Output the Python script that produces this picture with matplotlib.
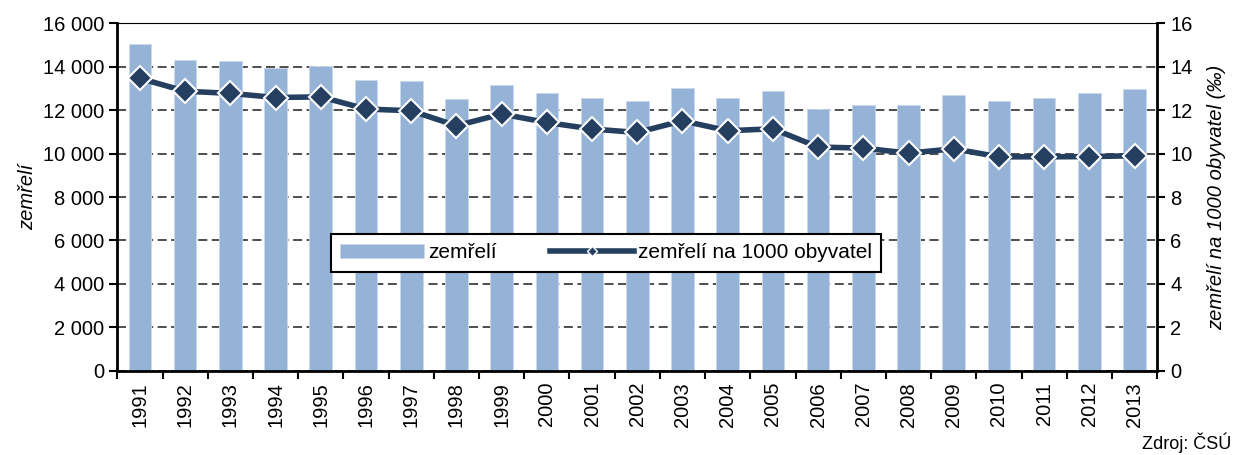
import numpy as np
import matplotlib
matplotlib.use('Agg')
import matplotlib.pyplot as plt
from matplotlib.ticker import FuncFormatter

# data
years = [str(y) for y in range(1991, 2014)]
zemreli = [15050, 14300, 14240, 13960, 14040, 13390, 13320, 12490, 13135, 12770,
           12580, 12410, 13040, 12580, 12860, 12030, 12220, 12220, 12680, 12400,
           12580, 12770, 12950]
na_1000 = [13.46, 12.87, 12.77, 12.58, 12.61, 12.05, 11.97, 11.28, 11.82, 11.43,
           11.13, 10.97, 11.51, 11.05, 11.14, 10.30, 10.25, 10.02, 10.22, 9.85,
           9.85, 9.86, 9.90]

plt.rcParams['font.family'] = ['Liberation Sans', 'DejaVu Sans']
plt.rcParams['font.size'] = 14.5

bar_col = '#95B3D7'
line_col = '#243F60'

fig, ax = plt.subplots(figsize=(12.35, 4.55), dpi=100)
fig.subplots_adjust(left=0.095, right=0.937, top=0.949, bottom=0.185)

x = np.arange(len(years))
bars = ax.bar(x, zemreli, width=0.5, color=bar_col, edgecolor='#C9D9EC', linewidth=0.6,
              label='zemřelí', zorder=2)
ax.set_xlim(-0.5, len(years) - 0.5)
ax.set_ylim(0, 16000)
ax.set_yticks(np.arange(0, 16001, 2000))
ax.yaxis.set_major_formatter(FuncFormatter(lambda v, p: f"{int(v):,}".replace(",", " ")))
ax.grid(axis='y', color='#404040', linestyle=(0, (5, 2.5)), linewidth=1.3, zorder=1)
ax.set_axisbelow(True)

# category ticks between bars (Excel style)
ax.set_xticks(x)
ax.set_xticklabels(years, rotation=90)
ax.set_xticks(np.arange(-0.5, len(years)), minor=True)
ax.tick_params(axis='x', which='major', length=0, pad=8)
ax.tick_params(axis='x', which='minor', length=6, width=1.5, direction='out')
ax.tick_params(axis='y', length=6, width=1.5, direction='out')
ax.set_ylabel('zemřelí', style='italic', labelpad=4)

for s in ['left', 'bottom']:
    ax.spines[s].set_linewidth(2)
ax.spines['top'].set_linewidth(0.8)
ax.spines['right'].set_visible(False)

ax2 = ax.twinx()
line, = ax2.plot(x, na_1000, color=line_col, linewidth=4, marker='D', markersize=12,
                 markerfacecolor=line_col, markeredgecolor='white', markeredgewidth=1.5,
                 label='zemřelí na 1000 obyvatel', zorder=3)
ax2.set_ylim(0, 16)
ax2.set_yticks(np.arange(0, 17, 2))
ax2.tick_params(axis='y', length=6, width=1.5, direction='out')
ax2.spines['right'].set_linewidth(2)
for s in ['left', 'bottom', 'top']:
    ax2.spines[s].set_visible(False)
ax2.set_ylabel('zemřelí na 1000 obyvatel (‰)', style='italic', labelpad=10)

leg_line = plt.Line2D([], [], color=line_col, linewidth=4, marker='D', markersize=5,
                      markerfacecolor=line_col, markeredgecolor='white', markeredgewidth=1)
leg = ax2.legend([bars, leg_line], ['zemřelí', 'zemřelí na 1000 obyvatel'], ncol=2,
                 loc='center', bbox_to_anchor=(0.47, 0.34), frameon=True, fancybox=False,
                 edgecolor='black', framealpha=1, handlelength=4.0, columnspacing=2.6,
                 fontsize=15, borderpad=0.45, handletextpad=0.2)
leg.get_frame().set_linewidth(1.5)

fig.text(0.997, 0.004, 'Zdroj: ČSÚ', ha='right', va='bottom', fontsize=13)

fig.savefig('out.png', dpi=100)
